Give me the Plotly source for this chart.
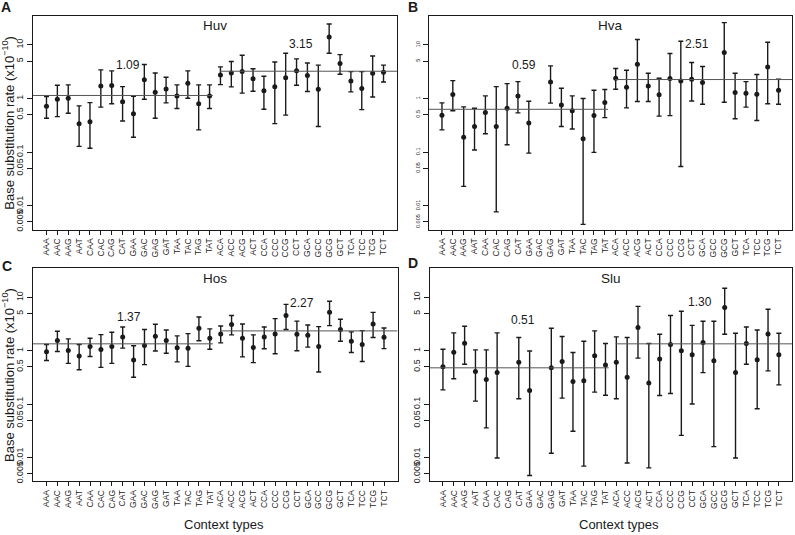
import math
import plotly.graph_objects as go

contexts = ["AAA","AAC","AAG","AAT","CAA","CAC","CAG","CAT","GAA","GAC","GAG","GAT",
            "TAA","TAC","TAG","TAT","ACA","ACC","ACG","ACT","CCA","CCC","CCG","CCT",
            "GCA","GCC","GCG","GCT","TCA","TCC","TCG","TCT"]

huv_rate = [0.72,0.97,1.01,0.34,0.37,1.72,1.75,0.87,0.52,2.23,1.31,1.51,1.12,1.93,0.80,1.12,
            2.76,3.0,3.18,2.33,1.39,1.65,2.43,3.28,2.68,1.49,14.1,4.49,2.13,1.54,2.96,3.1]
huv_upper = [1.09,1.77,1.8,0.73,0.84,3.42,3.28,1.67,1.1,4.3,3.0,2.5,1.8,3.28,1.8,1.8,
             3.89,4.9,6.4,3.6,2.6,4.8,7.0,5.5,4.6,4.2,24.6,6.6,3.18,3.18,6.2,4.2]
huv_lower = [0.43,0.46,0.53,0.128,0.118,0.69,0.80,0.38,0.19,0.97,0.43,0.83,0.65,1.01,0.26,0.65,
             1.82,1.65,1.26,1.37,0.63,0.34,0.49,1.77,1.35,0.30,7.0,2.84,1.33,0.62,1.07,2.04]

hva_rate = [0.49,1.19,0.19,0.30,0.55,0.30,0.66,1.12,0.35,None,2.04,0.76,0.59,0.177,0.48,0.84,
            2.39,1.63,4.36,1.72,1.17,2.36,2.13,2.29,1.99,None,7.2,1.29,1.26,1.2,3.89,1.43]
hva_upper = [0.83,2.16,0.70,0.66,1.12,1.67,1.9,2.07,0.89,None,4.06,1.56,1.12,1.0,1.43,1.47,
             3.62,3.37,12.6,2.96,2.39,6.9,11.7,4.69,3.95,None,26,2.96,2.07,2.8,11.2,2.29]
hva_lower = [0.26,0.59,0.023,0.11,0.22,0.0077,0.137,0.54,0.096,None,0.82,0.30,0.27,0.0045,0.099,0.44,
             1.49,0.67,0.88,0.88,0.47,0.48,0.054,0.90,0.78,None,0.85,0.42,0.69,0.39,0.80,0.78]

hos_rate = [0.96,1.56,1.01,0.80,1.2,1.06,1.2,1.82,0.67,1.26,1.88,1.56,1.14,1.12,2.64,1.72,
            2.07,3.1,1.72,1.15,1.82,2.07,4.6,2.04,1.96,1.2,5.25,2.5,1.51,1.31,3.18,1.8]
hos_upper = [1.31,2.32,1.67,1.31,1.72,2.01,2.23,2.8,1.24,2.5,3.14,2.46,1.9,2.1,4.3,2.57,
             2.92,4.6,3.18,1.99,2.8,4.0,7.4,3.6,3.05,2.84,8.5,3.9,2.26,2.39,5.25,2.68]
hos_lower = [0.66,0.97,0.58,0.44,0.78,0.49,0.58,1.12,0.32,0.55,0.99,0.90,0.62,0.51,1.54,1.07,
             1.41,1.99,0.77,0.6,1.09,0.88,2.5,1.0,1.17,0.40,2.96,1.51,0.93,0.63,1.77,1.1]

slu_rate = [0.50,0.94,1.39,0.41,0.29,0.39,None,0.61,0.18,None,0.48,0.63,0.265,0.276,0.81,0.54,
            0.61,0.32,2.72,0.25,0.70,1.31,1.0,0.84,1.43,0.65,6.5,0.39,1.37,0.68,2.07,0.84]
slu_upper = [1.07,2.17,2.88,1.04,1.04,2.17,None,1.77,0.99,None,2.64,1.85,0.93,1.51,2.36,1.37,
             1.82,1.77,6.8,1.37,2.04,4.6,5.5,3.0,3.57,3.57,14.9,2.13,2.8,2.46,6.0,2.13]
slu_lower = [0.185,0.30,0.56,0.114,0.036,0.0098,None,0.126,0.0046,None,0.012,0.13,0.031,0.0069,0.168,0.147,
             0.126,0.0079,0.73,0.0064,0.145,0.158,0.026,0.101,0.39,0.016,2.04,0.0098,0.56,0.082,0.42,0.23]

panel_names = ["Huv", "Hva", "Hos", "Slu"]
panel_letters = ["A", "B", "C", "D"]
mean_labels_left = ["1.09", "0.59", "1.37", "0.51"]
mean_labels_right = ["3.15", "2.51", "2.27", "1.30"]
mean_line_left = [1.14, 0.63, 1.35, 0.48]
mean_line_right = [3.23, 2.26, 2.36, 1.35]
label_pos_left = [(7.5, 4.24), (7.6, 4.2), (7.56, 4.3), (7.4, 3.73)]
label_pos_right = [(23.4, 10.3), (23.45, 10.3), (23.5, 7.8), (23.75, 8.2)]

ytick_vals = [0.005, 0.01, 0.05, 0.1, 0.5, 1, 5, 10]
ytick_text = ["0.005", "0.01", "0.05", "0.1", "0.5", "1", "5", "10"]

series = [(huv_rate, huv_upper, huv_lower), (hva_rate, hva_upper, hva_lower),
          (hos_rate, hos_upper, hos_lower), (slu_rate, slu_upper, slu_lower)]

W, H = 795, 535
boxes = [(33, 397, 15.7, 230.7), (428.5, 792, 15.7, 230.7),
         (33, 397.5, 269.3, 483.3), (429.5, 792.3, 269.3, 483.3)]
letter_pos = [(6, 7.5), (413, 7.5), (6.5, 266.7), (413, 263.8)]

FONT = "Liberation Sans, Arial, Helvetica, sans-serif"
INK = "#1a1a1a"
XR = [-1.24, 32.24]
YR = [-2.449, 1.546]

fig = go.Figure()
annotations = []
idx = list(range(len(contexts)))

for i, (rate, up, lo) in enumerate(series):
    n = "" if i == 0 else str(i + 1)
    xa, ya = "x" + n, "y" + n
    ep = [None if r is None else u - r for r, u in zip(rate, up)]
    em = [None if r is None else r - l for r, l in zip(rate, lo)]
    fig.add_trace(go.Scatter(
        x=idx, y=rate, mode="markers", xaxis=xa, yaxis=ya,
        marker=dict(color=INK, size=5),
        error_y=dict(type="data", symmetric=False, array=ep, arrayminus=em,
                     color=INK, thickness=1.4, width=2.5),
        showlegend=False, hoverinfo="skip"))
    fig.add_trace(go.Scatter(x=[XR[0], 15.3], y=[mean_line_left[i]] * 2, mode="lines",
                             xaxis=xa, yaxis=ya, line=dict(color="#555555", width=1),
                             showlegend=False, hoverinfo="skip"))
    fig.add_trace(go.Scatter(x=[15.95, XR[1]], y=[mean_line_right[i]] * 2, mode="lines",
                             xaxis=xa, yaxis=ya, line=dict(color="#555555", width=1),
                             showlegend=False, hoverinfo="skip"))

    l, r, t, b = boxes[i]
    xdom = [l / W, r / W]
    ydom = [1 - b / H, 1 - t / H]
    tick_size = 5.5 if i == 1 else 8.8
    fig.update_layout(**{
        "xaxis" + n: dict(domain=xdom, range=XR, tickmode="array", tickvals=idx,
                          ticktext=contexts, tickangle=-90, ticks="outside", ticklen=4,
                          tickwidth=1, tickcolor=INK, showline=True, linecolor=INK,
                          linewidth=1, mirror=True, showgrid=False, zeroline=False,
                          tickfont=dict(family=FONT, size=8.6, color=INK),
                          anchor=ya),
        "yaxis" + n: dict(domain=ydom, type="log", range=YR, tickmode="array",
                          tickvals=ytick_vals, ticktext=ytick_text, tickangle=-90,
                          ticks="outside", ticklen=5, tickwidth=1, tickcolor=INK,
                          showline=True, linecolor=INK, linewidth=1, mirror=True,
                          showgrid=False, zeroline=False,
                          tickfont=dict(family=FONT, size=tick_size, color=INK),
                          anchor=xa),
    })
    annotations.append(dict(text=panel_names[i], xref=xa + " domain", yref=ya + " domain",
                            x=0.5, y=1 - 10.3 / 215, xanchor="center", yanchor="middle",
                            showarrow=False, font=dict(family=FONT, size=13.5, color=INK)))
    for (lx, ly), txt in ((label_pos_left[i], mean_labels_left[i]),
                          (label_pos_right[i], mean_labels_right[i])):
        annotations.append(dict(text=txt, xref=xa, yref=ya, x=lx, y=math.log10(ly),
                                xanchor="center", yanchor="middle", showarrow=False,
                                font=dict(family=FONT, size=12, color=INK)))
    px, py = letter_pos[i]
    annotations.append(dict(text="<b>" + panel_letters[i] + "</b>", xref="paper", yref="paper",
                            x=px / W, y=1 - py / H, xanchor="center", yanchor="middle",
                            showarrow=False, font=dict(family=FONT, size=14, color=INK)))

for (l, r, t, b) in (boxes[0], boxes[2]):
    annotations.append(dict(text="Base substitution rate (x10<sup>\u221210</sup>)",
                            xref="paper", yref="paper", x=8 / W, y=1 - ((t + b) / 2) / H,
                            xanchor="center", yanchor="middle", textangle=-90, showarrow=False,
                            font=dict(family=FONT, size=13, color=INK)))
for cx in (224, 619):
    annotations.append(dict(text="Context types", xref="paper", yref="paper",
                            x=cx / W, y=1 - 526.5 / H, xanchor="center", yanchor="middle",
                            showarrow=False, font=dict(family=FONT, size=13, color=INK)))

fig.update_layout(width=W, height=H, margin=dict(l=0, r=0, t=0, b=0),
                  paper_bgcolor="white", plot_bgcolor="white",
                  annotations=annotations)

fig.write_html("out.html", config={"displayModeBar": False},
               post_script="document.body.style.margin='0';document.body.style.padding='0';")
